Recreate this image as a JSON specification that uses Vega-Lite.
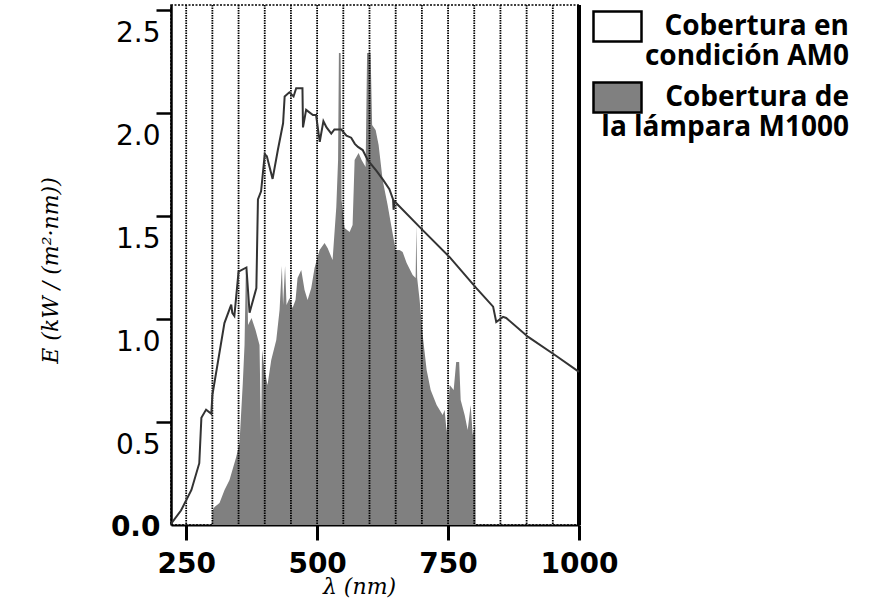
{
  "$schema": "https://vega.github.io/schema/vega-lite/v6.json",
  "autosize": {"type": "none"},
  "width": 408,
  "height": 520,
  "padding": {"left": 171, "top": 5, "right": 290, "bottom": 82},
  "background": "white",
  "config": {
    "view": {"stroke": "black", "strokeDash": [2, 1.5], "strokeWidth": 1.5},
    "legend": {
      "orient": "none", "legendX": 421, "legendY": -4, "padding": 0,
      "symbolType": "M-1,-0.625L1,-0.625L1,0.625L-1,0.625Z", "symbolSize": 2304,
      "symbolStrokeColor": "black", "symbolStrokeWidth": 2.5,
      "labelFont": "Open Sans", "labelFontWeight": "bold", "labelFontSize": 28, "labelColor": "black",
      "labelAlign": "right", "labelBaseline": "middle", "labelOffset": 206, "labelLimit": 500,
      "rowPadding": 1
    }
  },
  "datasets": {
    "am0": [
      {"nm": 221, "E": 0.005}, {"nm": 240, "E": 0.07}, {"nm": 250, "E": 0.12}, {"nm": 260, "E": 0.17},
      {"nm": 275, "E": 0.30}, {"nm": 279, "E": 0.52}, {"nm": 288, "E": 0.56}, {"nm": 298, "E": 0.54},
      {"nm": 300, "E": 0.63}, {"nm": 323, "E": 0.98}, {"nm": 336, "E": 1.07}, {"nm": 338, "E": 1.03},
      {"nm": 342, "E": 1.015}, {"nm": 350, "E": 1.23}, {"nm": 365, "E": 1.25}, {"nm": 371, "E": 1.03},
      {"nm": 384, "E": 1.15}, {"nm": 387, "E": 1.58}, {"nm": 393, "E": 1.62}, {"nm": 400, "E": 1.80},
      {"nm": 404, "E": 1.79}, {"nm": 415, "E": 1.68}, {"nm": 425, "E": 1.82}, {"nm": 435, "E": 1.95},
      {"nm": 438, "E": 2.08}, {"nm": 447, "E": 2.10}, {"nm": 455, "E": 2.08}, {"nm": 460, "E": 2.12},
      {"nm": 472, "E": 2.12}, {"nm": 473, "E": 1.93}, {"nm": 479, "E": 2.015}, {"nm": 492, "E": 1.99},
      {"nm": 498, "E": 1.99}, {"nm": 505, "E": 1.86}, {"nm": 512, "E": 1.96}, {"nm": 518, "E": 1.93},
      {"nm": 527, "E": 1.90}, {"nm": 533, "E": 1.92}, {"nm": 546, "E": 1.92}, {"nm": 556, "E": 1.89},
      {"nm": 565, "E": 1.88}, {"nm": 572, "E": 1.85}, {"nm": 578, "E": 1.835}, {"nm": 587, "E": 1.82},
      {"nm": 597, "E": 1.77}, {"nm": 613, "E": 1.72}, {"nm": 626, "E": 1.675}, {"nm": 638, "E": 1.63},
      {"nm": 645, "E": 1.58}, {"nm": 646, "E": 1.53}, {"nm": 648, "E": 1.57}, {"nm": 702, "E": 1.43},
      {"nm": 753, "E": 1.30}, {"nm": 804, "E": 1.15}, {"nm": 836, "E": 1.06}, {"nm": 842, "E": 0.985},
      {"nm": 855, "E": 1.01}, {"nm": 861, "E": 1.005}, {"nm": 903, "E": 0.913}, {"nm": 954, "E": 0.825},
      {"nm": 1000, "E": 0.743}
    ],
    "lamp": [
      {"nm": 299.3, "E": 0}, {"nm": 300.8, "E": 0.073}, {"nm": 304.1, "E": 0.087}, {"nm": 313.6, "E": 0.107},
      {"nm": 323.2, "E": 0.17}, {"nm": 332.7, "E": 0.218}, {"nm": 345.5, "E": 0.33}, {"nm": 351.8, "E": 0.398},
      {"nm": 358.1, "E": 0.689}, {"nm": 361.4, "E": 0.874}, {"nm": 363.9, "E": 1.238}, {"nm": 366.2, "E": 1.228},
      {"nm": 368.1, "E": 0.971}, {"nm": 374.8, "E": 1.005}, {"nm": 382.4, "E": 0.947}, {"nm": 390.0, "E": 0.874},
      {"nm": 392.9, "E": 0.427}, {"nm": 394.8, "E": 0.85}, {"nm": 399.6, "E": 0.752}, {"nm": 405.3, "E": 0.68},
      {"nm": 412.4, "E": 0.801}, {"nm": 422.0, "E": 0.898}, {"nm": 428.3, "E": 1.044}, {"nm": 432.7, "E": 1.257},
      {"nm": 435.0, "E": 1.068}, {"nm": 438.8, "E": 1.257}, {"nm": 441.6, "E": 1.068}, {"nm": 447.4, "E": 1.102},
      {"nm": 453.1, "E": 1.053}, {"nm": 458.8, "E": 1.092}, {"nm": 462.6, "E": 1.199}, {"nm": 469.7, "E": 1.238},
      {"nm": 476.0, "E": 1.141}, {"nm": 481.8, "E": 1.092}, {"nm": 488.8, "E": 1.15}, {"nm": 495.1, "E": 1.248},
      {"nm": 504.7, "E": 1.335}, {"nm": 514.2, "E": 1.369}, {"nm": 520.0, "E": 1.345}, {"nm": 529.5, "E": 1.286},
      {"nm": 536.6, "E": 1.544}, {"nm": 540.0, "E": 1.772}, {"nm": 541.6, "E": 2.291}, {"nm": 544.8, "E": 2.291},
      {"nm": 546.7, "E": 1.578}, {"nm": 552.4, "E": 1.442}, {"nm": 562.0, "E": 1.422}, {"nm": 567.7, "E": 1.456},
      {"nm": 571.6, "E": 1.772}, {"nm": 579.2, "E": 1.806}, {"nm": 584.9, "E": 1.772}, {"nm": 592.6, "E": 1.738},
      {"nm": 595.4, "E": 2.291}, {"nm": 602.1, "E": 2.291}, {"nm": 605.0, "E": 1.942}, {"nm": 611.7, "E": 1.917},
      {"nm": 617.4, "E": 1.845}, {"nm": 625.1, "E": 1.675}, {"nm": 634.6, "E": 1.553}, {"nm": 642.3, "E": 1.442},
      {"nm": 649.9, "E": 1.335}, {"nm": 657.5, "E": 1.335}, {"nm": 663.3, "E": 1.325}, {"nm": 670.9, "E": 1.272},
      {"nm": 682.4, "E": 1.214}, {"nm": 688.1, "E": 1.199}, {"nm": 689.4, "E": 1.456}, {"nm": 691.0, "E": 1.199},
      {"nm": 695.7, "E": 1.092}, {"nm": 701.5, "E": 0.922}, {"nm": 709.1, "E": 0.752}, {"nm": 716.8, "E": 0.655},
      {"nm": 728.2, "E": 0.583}, {"nm": 739.7, "E": 0.534}, {"nm": 743.5, "E": 0.558}, {"nm": 747.3, "E": 0.451},
      {"nm": 753.1, "E": 0.68}, {"nm": 760.7, "E": 0.655}, {"nm": 765.5, "E": 0.791}, {"nm": 771.2, "E": 0.791},
      {"nm": 774.1, "E": 0.607}, {"nm": 781.7, "E": 0.534}, {"nm": 787.5, "E": 0.461}, {"nm": 793.2, "E": 0.583},
      {"nm": 797.0, "E": 0.437}, {"nm": 801.8, "E": 0.485}, {"nm": 802.7, "E": 0}
    ],
    "grid": [
      {"nm": 250}, {"nm": 300}, {"nm": 350}, {"nm": 400}, {"nm": 450}, {"nm": 500}, {"nm": 550}, {"nm": 600},
      {"nm": 650}, {"nm": 700}, {"nm": 750}, {"nm": 800}, {"nm": 850}, {"nm": 900}, {"nm": 950}
    ]
  },
  "layer": [
    {
      "data": {"name": "lamp"},
      "mark": {"type": "area", "interpolate": "linear"},
      "encoding": {
        "x": {
          "field": "nm", "type": "quantitative",
          "scale": {"domain": [221, 1000], "nice": false, "zero": false},
          "axis": {
            "values": [250, 500, 750, 1000], "format": "d", "grid": false,
            "title": "λ (nm)", "titleFont": "DejaVu Serif", "titleFontStyle": "italic", "titleFontWeight": "normal",
            "titleFontSize": 22, "titleColor": "black", "titleX": 188, "titleY": 68, "titleBaseline": "alphabetic", "titleAnchor": "middle", "titleAlign": "center",
            "labelFont": "DejaVu Sans", "labelFontWeight": "bold", "labelFontSize": 28, "labelColor": "black",
            "labelFlush": false, "labelOverlap": false, "labelBound": false, "labelPadding": 10,
            "tickSize": 15, "tickWidth": 3, "tickColor": "black", "domainColor": "black", "domainWidth": 2
          }
        },
        "y": {
          "field": "E", "type": "quantitative",
          "scale": {"domain": [0, 2.524], "nice": false},
          "axis": {
            "values": [0, 0.5, 1, 1.5, 2, 2.5], "format": ".1f", "grid": false,
            "title": "E (kW / (m²·nm))", "titleFont": "DejaVu Serif", "titleFontStyle": "italic", "titleFontWeight": "normal",
            "titleFontSize": 22, "titleColor": "black", "titleX": -121, "titleY": 265, "titleAngle": -90, "titleAlign": "center", "titleBaseline": "middle",
            "labelFont": "DejaVu Sans", "labelFontSize": 28, "labelColor": "black",
            "labelFontWeight": {"condition": {"test": "datum.value == 0", "value": "bold"}, "value": "normal"},
            "labelBaseline": {"condition": {"test": "datum.value == 0", "value": "alphabetic"}, "value": "top"},
            "labelOffset": 10, "labelPadding": -4, "labelOverlap": false, "labelBound": false, "labelFlush": false,
            "tickSize": 15, "tickWidth": 2.5, "tickColor": "black",
            "tickOpacity": {"condition": {"test": "datum.value == 0", "value": 0}, "value": 1},
            "domainColor": "black", "domainWidth": 2.5
          }
        },
        "fill": {
          "datum": "Cobertura de la lámpara M1000",
          "scale": {"domain": ["Cobertura en condición AM0", "Cobertura de la lámpara M1000"], "range": ["white", "#808080"]},
          "legend": {
            "title": null,
            "labelExpr": "datum.label == 'Cobertura en condición AM0' ? ['Cobertura en', 'condición AM0'] : ['Cobertura de', 'la lámpara M1000']"
          }
        }
      }
    },
    {
      "data": {"name": "grid"},
      "mark": {"type": "rule", "color": "black", "strokeDash": [1.5, 1], "strokeWidth": 1.8},
      "encoding": {"x": {"field": "nm", "type": "quantitative"}}
    },
    {
      "data": {"name": "grid"},
      "mark": {"type": "rule", "color": "black", "strokeWidth": 3},
      "encoding": {"x": {"datum": 1000}}
    },
    {
      "data": {"name": "am0"},
      "mark": {"type": "line", "color": "#333333", "strokeWidth": 2, "interpolate": "linear"},
      "encoding": {
        "x": {"field": "nm", "type": "quantitative"},
        "y": {"field": "E", "type": "quantitative"}
      }
    }
  ]
}
